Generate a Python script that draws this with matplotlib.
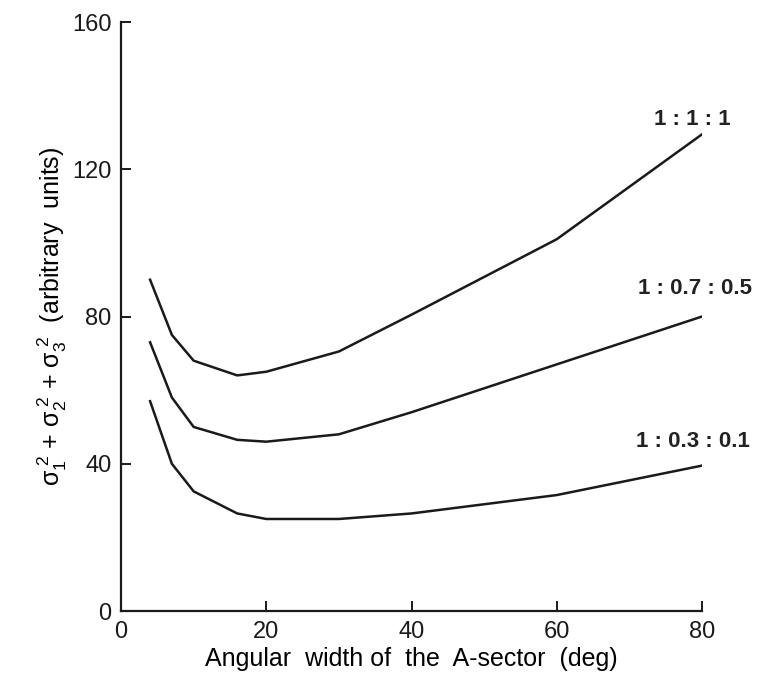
import matplotlib
matplotlib.use("Agg")
import matplotlib.pyplot as plt

plt.rcParams["font.family"] = ["Liberation Sans", "DejaVu Sans"]
plt.rcParams["mathtext.fontset"] = "custom"
plt.rcParams["mathtext.rm"] = "Liberation Sans"
plt.rcParams["mathtext.it"] = "Liberation Sans"
plt.rcParams["mathtext.default"] = "regular"

# angular width of the A-sector (deg)
width = [4, 7, 10, 16, 20, 30, 40, 60, 80]

# sum of variances for each sensitivity ratio
ratio_111 = [90, 75, 68, 64, 65, 70.5, 80.5, 101, 129.5]
ratio_0705 = [73, 58, 50, 46.5, 46, 48, 54, 67, 80]
ratio_0301 = [57, 40, 32.5, 26.5, 25, 25, 26.5, 31.5, 39.5]

labels = ["1 : 1 : 1", "1 : 0.7 : 0.5", "1 : 0.3 : 0.1"]
label_pos = [(78.6, 133.4), (79.0, 87.5), (78.8, 46)]

x_ticks = [0, 20, 40, 60, 80]
y_ticks = [0, 40, 80, 120, 160]

fig = plt.figure(figsize=(7.68, 6.88), dpi=100)
ax = fig.add_axes([0.1576, 0.1119, 0.7565, 0.8561])

for series in (ratio_111, ratio_0705, ratio_0301):
    ax.plot(width, series, color="#1a1a1a", lw=1.8)

for text, (tx, ty) in zip(labels, label_pos):
    ax.text(tx, ty, text, ha="center", va="center", fontsize=16,
            fontweight="bold", color="#222222", clip_on=False)

ax.set_xlim(0, 80)
ax.set_ylim(0, 160)
ax.set_xticks(x_ticks)
ax.set_yticks(y_ticks)
ax.spines["top"].set_visible(False)
ax.spines["right"].set_visible(False)
for s in ("left", "bottom"):
    ax.spines[s].set_linewidth(1.6)
    ax.spines[s].set_color("#1a1a1a")
ax.tick_params(direction="in", length=7, width=1.4, labelsize=17,
               colors="#1a1a1a", pad=7)

ax.set_xlabel("Angular  width of  the  A-sector  (deg)", fontsize=18, labelpad=3)
ax.set_ylabel(r"$\sigma_1^{\ 2}$ + $\sigma_2^{\ 2}$ + $\sigma_3^{\ 2}$  (arbitrary  units)",
              fontsize=18, labelpad=2)

fig.savefig("out.png", dpi=100)
